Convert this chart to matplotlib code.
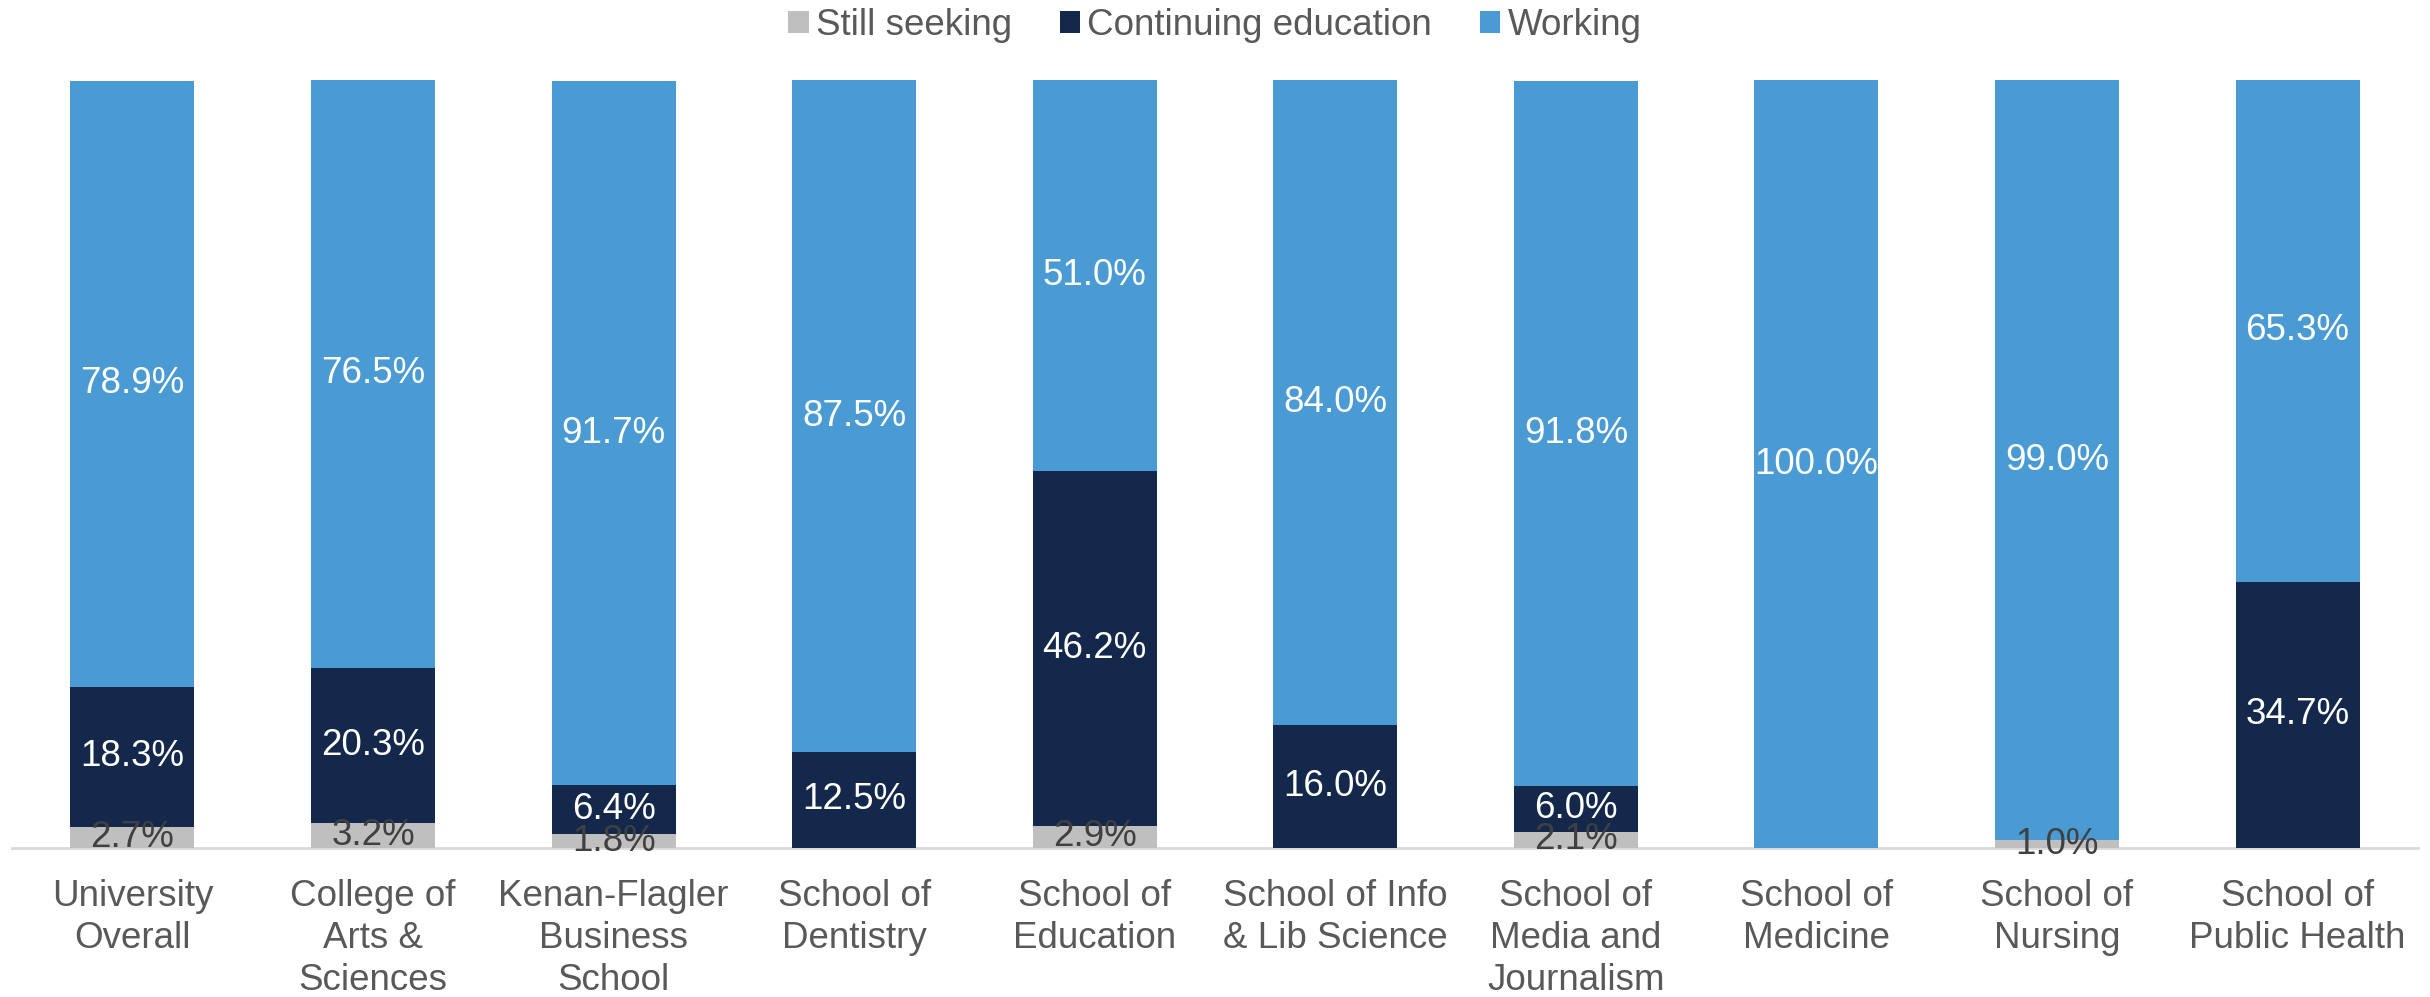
import matplotlib.pyplot as plt
import numpy as np

plt.rcParams['font.family'] = ['Liberation Sans', 'DejaVu Sans']

# Categories and values (percent)
schools = ['University\nOverall', 'College of\nArts &\nSciences', 'Kenan-Flagler\nBusiness\nSchool',
           'School of\nDentistry', 'School of\nEducation', 'School of Info\n& Lib Science',
           'School of\nMedia and\nJournalism', 'School of\nMedicine', 'School of\nNursing',
           'School of\nPublic Health']
still_seeking = [2.7, 3.2, 1.8, 0.0, 2.9, 0.0, 2.1, 0.0, 1.0, 0.0]
continuing = [18.3, 20.3, 6.4, 12.5, 46.2, 16.0, 6.0, 0.0, 0.0, 34.7]
working = [78.9, 76.5, 91.7, 87.5, 51.0, 84.0, 91.8, 100.0, 99.0, 65.3]

series = [('Still seeking', still_seeking, '#BFBFBF', '#404040'),
          ('Continuing education', continuing, '#14284B', 'white'),
          ('Working', working, '#4A9BD4', 'white')]

fig = plt.figure(figsize=(24.3, 9.97), dpi=100)
ax = fig.add_axes([0.005, 0.1495, 0.99, 0.77])

x = np.arange(len(schools))
bottom = np.zeros(len(schools))
for name, vals, color, tcolor in series:
    vals = np.array(vals)
    ax.bar(x, vals, 0.515, bottom=bottom, color=color, label=name, zorder=2)
    for xi, b, v in zip(x, bottom, vals):
        if v > 0:
            ax.text(xi, b + v / 2, f'{v:.1f}%', ha='center', va='center',
                    fontsize=26.5, color=tcolor, zorder=3)
    bottom += vals

ax.set_xlim(-0.5, len(schools) - 0.5)
ax.set_ylim(0, 100)
ax.set_yticks([])
for s in ['top', 'left', 'right']:
    ax.spines[s].set_visible(False)
ax.spines['bottom'].set_color('#D9D9D9')
ax.spines['bottom'].set_linewidth(2)
ax.spines['bottom'].set_zorder(1)
ax.set_xticks(x)
ax.set_xticklabels(schools, fontsize=26.5, color='#595959', linespacing=1.26)
ax.tick_params(axis='x', length=0, pad=22)

fig.legend(loc='center', bbox_to_anchor=(0.5, 0.974), ncol=3, frameon=False,
           fontsize=26.5, labelcolor='#595959', handlelength=0.55, handleheight=0.55,
           handletextpad=0.2, columnspacing=1.3)

fig.savefig('out.png', dpi=100)
